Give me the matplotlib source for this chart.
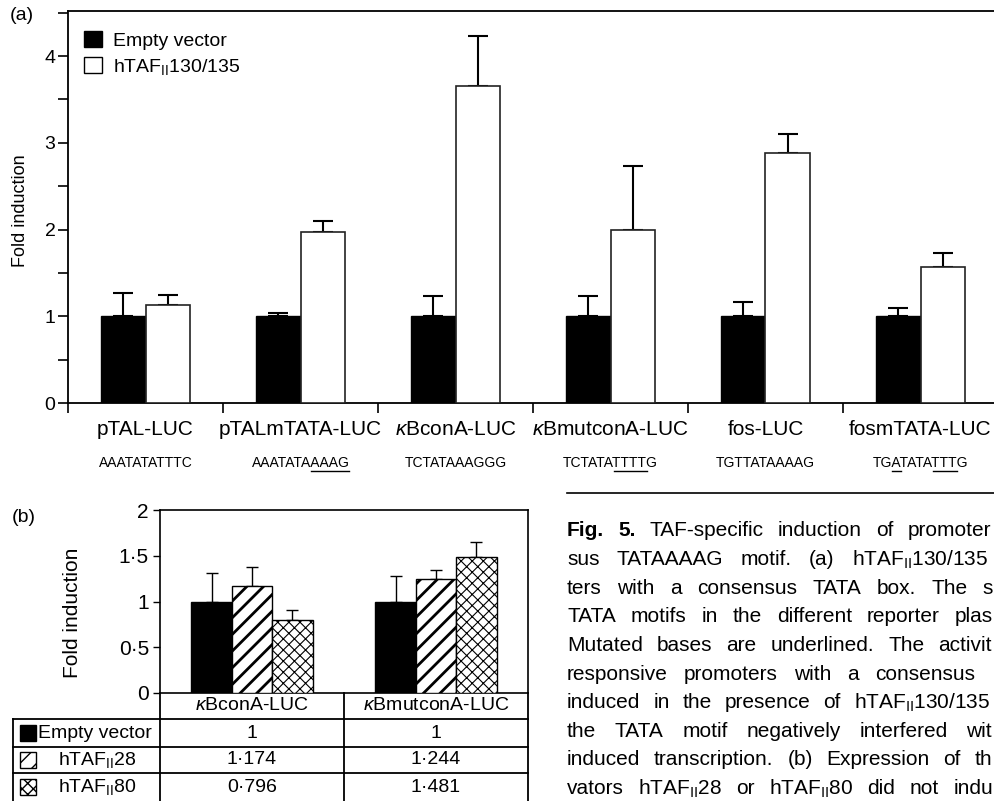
import numpy as np
import matplotlib
matplotlib.use('Agg')
import matplotlib.pyplot as plt
from matplotlib.patches import Patch, Rectangle
from matplotlib.lines import Line2D
from matplotlib.transforms import IdentityTransform, blended_transform_factory

plt.rcParams['font.family'] = ['Liberation Sans', 'DejaVu Sans']
plt.rcParams['mathtext.fontset'] = 'custom'
plt.rcParams['mathtext.rm'] = 'Liberation Sans'
plt.rcParams['mathtext.it'] = 'Liberation Sans:italic'
plt.rcParams['mathtext.bf'] = 'Liberation Sans:bold'
plt.rcParams['hatch.linewidth'] = 1.0

# ---------------- data ----------------
categories = ['pTAL-LUC', 'pTALmTATA-LUC', r'$\kappa$BconA-LUC',
              r'$\kappa$BmutconA-LUC', 'fos-LUC', 'fosmTATA-LUC']
sequences = ['AAATATATTTC', 'AAATATAAAAG', 'TCTATAAAGGG',
             'TCTATATTTTG', 'TGTTATAAAAG', 'TGATATATTTG']
underlined = [[], [(7, 11)], [], [(6, 10)], [], [(2, 3), (7, 10)]]
empty_vals = [1.0, 1.0, 1.0, 1.0, 1.0, 1.0]
empty_err = [0.27, 0.04, 0.23, 0.23, 0.17, 0.09]
taf130_vals = [1.13, 1.97, 3.65, 2.00, 2.88, 1.57]
taf130_err = [0.11, 0.13, 0.58, 0.73, 0.22, 0.16]
legend_a = ['Empty vector', r'hTAF$_{\mathrm{II}}$130/135']

b_groups = [r'$\kappa$BconA-LUC', r'$\kappa$BmutconA-LUC']
b_series = ['Empty vector', r'hTAF$_{\mathrm{II}}$28', r'hTAF$_{\mathrm{II}}$80']
b_empty = [1.0, 1.0]
b_taf28 = [1.174, 1.244]
b_taf80 = [0.796, 1.481]
b_empty_err = [0.31, 0.28]
b_taf28_err = [0.20, 0.10]
b_taf80_err = [0.11, 0.17]
b_yticks = [0, 0.5, 1, 1.5, 2]
b_yticklabels = ['0', '0·5', '1', '1·5', '2']

# visible part of the (cropped) caption: words, right end of line, number of bold words
caption_lines = [
    (['Fig.', '5.', 'TAF-specific', 'induction', 'of', 'promoter'], 991, 2),
    (['sus', 'TATAAAAG', 'motif.', '(a)', r'hTAF$_{\mathrm{II}}$130/135'], 988, 0),
    (['ters', 'with', 'a', 'consensus', 'TATA', 'box.', 'The', 's'], 993, 0),
    (['TATA', 'motifs', 'in', 'the', 'different', 'reporter', 'plas'], 993, 0),
    (['Mutated', 'bases', 'are', 'underlined.', 'The', 'activit'], 992, 0),
    (['responsive', 'promoters', 'with', 'a', 'consensus'], 975, 0),
    (['induced', 'in', 'the', 'presence', 'of', r'hTAF$_{\mathrm{II}}$130/135'], 990, 0),
    (['the', 'TATA', 'motif', 'negatively', 'interfered', 'wit'], 992, 0),
    (['induced', 'transcription.', '(b)', 'Expression', 'of', 'th'], 992, 0),
    (['vators', r'hTAF$_{\mathrm{II}}$28', 'or', r'hTAF$_{\mathrm{II}}$80', 'did', 'not', 'indu'], 993, 0),
]

# ---------------- figure ----------------
W, H = 994, 801
fig = plt.figure(figsize=(W / 100, H / 100), dpi=100)


def fx(px):
    return px / W


def fy(py):
    return 1 - py / H


ov = fig.add_axes([0, 0, 1, 1], zorder=-5)
ov.set_xlim(0, W)
ov.set_ylim(H, 0)
ov.axis('off')

# ---------------- panel (a) ----------------
axA = fig.add_axes([fx(68), fy(403), fx(998) - fx(68), fy(11) - fy(403)])
axA.set_facecolor('none')
x = np.arange(len(categories))
bw = 0.29
axA.bar(x - bw / 2, empty_vals, bw, color='black', edgecolor='black', lw=1.0, zorder=3)
axA.bar(x + bw / 2, taf130_vals, bw, color='white', edgecolor='#222222', lw=1.2, zorder=3)
axA.errorbar(x - bw / 2, empty_vals, yerr=[np.zeros(6), empty_err], fmt='none',
             ecolor='black', elinewidth=1.5, capsize=7, capthick=1.5, zorder=2)
axA.errorbar(x + bw / 2, taf130_vals, yerr=[np.zeros(6), taf130_err], fmt='none',
             ecolor='black', elinewidth=1.5, capsize=7, capthick=1.5, zorder=2)
axA.set_xlim(-0.5, 5.5)
axA.set_ylim(0, 4.52)
axA.spines['right'].set_visible(False)
for s in ['left', 'bottom', 'top']:
    axA.spines[s].set_linewidth(1.3)
axA.set_yticks([0, 1, 2, 3, 4])
axA.set_yticks(np.arange(0.5, 4.6, 1.0), minor=True)
axA.tick_params(axis='y', which='both', length=7, width=1.2, labelsize=14, pad=2)
axA.set_xticks(x, categories)
axA.set_xticks(np.arange(-0.5, 6, 1), minor=True)
axA.tick_params(axis='x', which='major', length=0, pad=12, labelsize=15)
axA.tick_params(axis='x', which='minor', length=7, width=1.2)
axA.set_ylabel('Fold induction', fontsize=13)
axA.yaxis.set_label_coords(-0.042, 0.49)
axA.legend([Patch(facecolor='black', edgecolor='black'),
            Patch(facecolor='white', edgecolor='black')], legend_a,
           loc='upper left', bbox_to_anchor=(fx(84), fy(31)), bbox_transform=fig.transFigure,
           frameon=False, fontsize=14, handlelength=0.9, handleheight=0.9,
           handletextpad=0.6, labelspacing=0.35, borderpad=0, borderaxespad=0)

trA = blended_transform_factory(axA.transData, axA.transAxes)
seq_texts = []
for i, s in enumerate(sequences):
    t = axA.text(i, -0.153, s, transform=trA, ha='center', va='center', fontsize=10)
    seq_texts.append(t)

ov.text(10, 16, '(a)', fontsize=14, va='center', ha='left')

# ---------------- panel (b) ----------------
axB = fig.add_axes([fx(160), fy(693), fx(528) - fx(160), fy(510) - fy(693)])
axB.set_facecolor('none')
xb = np.arange(len(b_groups))
bwb = 0.22
axB.bar(xb - bwb, b_empty, bwb, color='black', edgecolor='black', lw=1.0, zorder=3)
bars28 = axB.bar(xb, b_taf28, bwb, color='white', edgecolor='black', hatch='//', lw=1.0, zorder=3)
bars80 = axB.bar(xb + bwb, b_taf80, bwb, color='white', edgecolor='black', hatch='xxx', lw=1.0, zorder=3)
for p in bars28:
    try:
        p.set_hatch_linewidth(2.0)
    except AttributeError:
        pass
for p in bars80:
    try:
        p.set_hatch_linewidth(0.8)
    except AttributeError:
        pass
for off, v, e in [(-bwb, b_empty, b_empty_err), (0, b_taf28, b_taf28_err), (bwb, b_taf80, b_taf80_err)]:
    axB.errorbar(xb + off, v, yerr=[np.zeros(2), e], fmt='none', ecolor='black',
                 elinewidth=1.0, capsize=4, capthick=1.0, zorder=2)
axB.set_xlim(-0.5, 1.5)
axB.set_ylim(0, 2)
axB.set_xticks([])
axB.set_yticks(b_yticks, b_yticklabels)
axB.tick_params(axis='y', length=5, width=1.0, labelsize=15, pad=3)
for s in axB.spines.values():
    s.set_linewidth(1.2)
axB.set_ylabel('Fold induction', fontsize=15)
axB.yaxis.set_label_coords(-0.212, 0.44)
ov.text(12, 517, '(b)', fontsize=14, va='center', ha='left')

# table under panel (b)
col_x = [axB.transData.transform((i, 0))[0] for i in xb]
left_px = axB.transAxes.transform((0, 0))[0]
right_px = axB.transAxes.transform((1, 0))[0]
mid_px = axB.transData.transform((0.5, 0))[0]
lw_t = 1.3
for cx, g in zip(col_x, b_groups):
    ov.text(cx, 706, g, ha='center', va='center', fontsize=14)
row_y = [733, 760, 787]
for yline in [719, 747, 773]:
    ov.plot([13, right_px], [yline, yline], color='black', lw=lw_t)
ov.plot([13, 13], [719, H], color='black', lw=lw_t)
ov.plot([left_px, left_px], [693, H], color='black', lw=lw_t)
ov.plot([mid_px, mid_px], [693, H], color='black', lw=lw_t)
ov.plot([right_px, right_px], [693, H], color='black', lw=lw_t)


def fmt(v):
    if abs(v - round(v)) < 1e-9:
        return str(int(round(v)))
    return f'{v:.3f}'.replace('.', '·')


hatches = [None, '//', 'xxx']
fills = ['black', 'white', 'white']
text_x = [38, 58, 58]
for r, (name, vals) in enumerate(zip(b_series, [b_empty, b_taf28, b_taf80])):
    yc = row_y[r]
    ov.add_patch(Rectangle((20, yc - 8), 16, 16, facecolor=fills[r], edgecolor='black',
                           hatch=hatches[r], lw=1.0))
    ov.text(text_x[r], yc, name, ha='left', va='center', fontsize=14)
    for cx, v in zip(col_x, vals):
        ov.text(cx, yc, fmt(v), ha='center', va='center', fontsize=14)

# rule above caption
ov.plot([567, W], [493, 493], color='black', lw=1.2)

# ---------------- render-dependent text layout ----------------
fig.canvas.draw()
rend = fig.canvas.get_renderer()


def text_width(s, **kw):
    t = ov.text(0, 0, s, **kw)
    w = t.get_window_extent(renderer=rend).width
    t.remove()
    return w


# underlines of mutated bases
for t, s, ranges in zip(seq_texts, sequences, underlined):
    if not ranges:
        continue
    bb = t.get_window_extent(renderer=rend)
    full = text_width(s, fontsize=10)
    x0 = bb.x0 + (bb.width - full) / 2
    for a, b in ranges:
        xa = x0 + (text_width(s[:a], fontsize=10) if a > 0 else 0)
        xb_ = x0 + text_width(s[:b], fontsize=10)
        fig.add_artist(Line2D([xa, xb_], [bb.y0 - 1.5, bb.y0 - 1.5], transform=IdentityTransform(),
                              color='black', lw=1.0))

# justified caption (cropped at the right edge like the reference)
cap_fs = 15
cap_x0 = 567
cap_y0 = 531
cap_dy = 28.6
for li, (words, right_end, nbold) in enumerate(caption_lines):
    yb = cap_y0 + li * cap_dy
    widths = [text_width(w, fontsize=cap_fs, fontweight='bold' if k < nbold else 'normal')
              for k, w in enumerate(words)]
    n = len(words)
    gap = (right_end - cap_x0 - sum(widths)) / (n - 1)
    xpos = cap_x0
    for k, w in enumerate(words):
        ov.text(xpos, yb, w, fontsize=cap_fs, ha='left', va='center',
                fontweight='bold' if k < nbold else 'normal')
        xpos += widths[k] + gap

fig.savefig('out.png', dpi=100)
